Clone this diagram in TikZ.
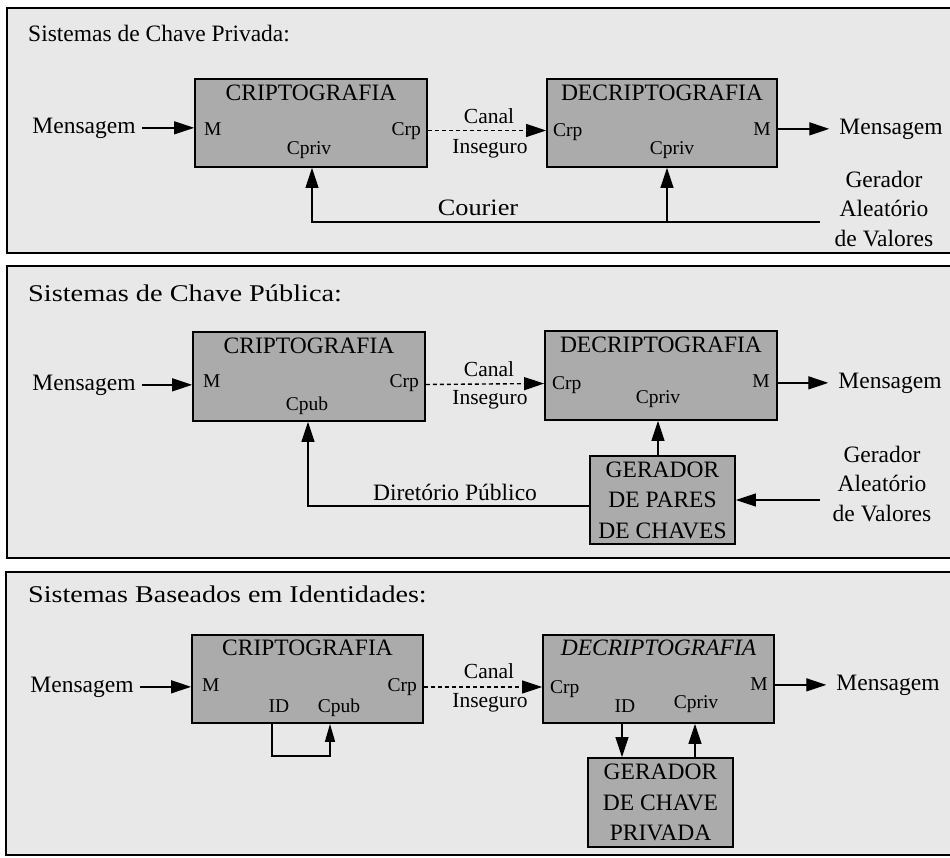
\documentclass[tikz,border=0pt]{standalone}
\usepackage{fontspec}
\setmainfont{Liberation Serif}
\usetikzlibrary{arrows.meta}

\begin{document}
\begin{tikzpicture}[x=1pt,y=-1pt,
  panel/.style={draw=black, line width=1.8pt, fill=black!9},
  box/.style={draw=black, line width=1.8pt, fill=black!33, inner sep=0pt},
  big/.style={font=\fontsize{23.5}{29.5}\selectfont, inner sep=0pt},
  boxtxt/.style={font=\fontsize{23.5}{30.5}\selectfont, align=center},
  port/.style={font=\fontsize{19.5}{22}\selectfont, inner sep=0pt, anchor=base},
  chan/.style={font=\fontsize{21.5}{24}\selectfont, inner sep=0pt, anchor=base},
  wire/.style={line width=1.4pt},
  arr/.style={wire, -{Triangle[length=20pt,width=13pt]}},
  smallarr/.style={wire, -{Triangle[length=18pt,width=10pt]}},
  chanarr/.style={arr, dash pattern=on 4pt off 3pt},
]
\useasboundingbox (0,0) rectangle (950,857);
\clip (0,0) rectangle (950,857);

% three framed panels
\path[panel] (7,8) rectangle (958,253);
\path[panel] (7,266) rectangle (958,558);
\path[panel] (6,572) rectangle (958,855);

% ---------------- private key systems ----------------
\node[big, anchor=base west] (t1) at (28,41) {Sistemas de Chave Privada:};

\node[box, minimum width=232pt, minimum height=88pt] (c1) at (311,123) {};
\node[big, anchor=base] (c1t) at (311,100) {CRIPTOGRAFIA};
\node[port, anchor=base west] (c1m) at (204,135) {M};
\node[port, anchor=base east] (c1c) at (421,135) {Crp};
\node[port] (c1k) at (309,154) {Cpriv};

\node[box, minimum width=230pt, minimum height=88pt] (d1) at (662,123) {};
\node[big, anchor=base] (d1t) at (662,100) {DECRIPTOGRAFIA};
\node[port, anchor=base west] (d1c) at (553,136) {Crp};
\node[port, anchor=base east] (d1m) at (771,135) {M};
\node[port] (d1k) at (672,154) {Cpriv};

\node[big, anchor=base] (m1in) at (84,133) {Mensagem};
\node[big, anchor=base] (m1out) at (891,134) {Mensagem};
\node[chan] (ch1a) at (489,123) {Canal};
\node[chan] (ch1b) at (490,153) {Inseguro};
\node[big, align=center] (r1) at (884,209) {Gerador\\Aleatório\\de Valores};
\node[big, anchor=base] (cou) at (478,215) {\scalebox{1.12}[1]{Courier}};

\draw[arr] ([xshift=6pt]m1in.east) -- (m1in.east -| c1.west);
\draw[chanarr] ([yshift=-7.5pt]c1.east) -- ([yshift=-7.5pt]d1.west);
\draw[arr] (m1out.west -| d1.east) -- ([xshift=-10pt]m1out.west);
\coordinate (g1) at (820,222);
\coordinate (k1) at (312,222);
\coordinate (k2) at (667,222);
\draw[arr] (g1) -- (k1) -- (k1 |- c1.south);
\draw[arr] (k2) -- (k2 |- d1.south);

% ---------------- public key systems ----------------
\node[big, anchor=base west] (t2) at (28,301) {\fontsize{24}{29}\selectfont\scalebox{1.18}[1]{Sistemas de Chave Pública:}};

\node[box, minimum width=232pt, minimum height=89pt] (c2) at (309,376.5) {};
\node[big, anchor=base] (c2t) at (309,353) {CRIPTOGRAFIA};
\node[port, anchor=base west] (c2m) at (203,387) {M};
\node[port, anchor=base east] (c2c) at (419,387) {Crp};
\node[port] (c2k) at (307,410) {Cpub};

\node[box, minimum width=232pt, minimum height=89pt] (d2) at (661,375.5) {};
\node[big, anchor=base] (d2t) at (661,352) {DECRIPTOGRAFIA};
\node[port, anchor=base west] (d2c) at (552,389) {Crp};
\node[port, anchor=base east] (d2m) at (770,387) {M};
\node[port] (d2k) at (658,403) {Cpriv};

\node[box, boxtxt, minimum width=145pt, minimum height=88pt] (g2) at (662.5,500) {GERADOR\\DE PARES\\DE CHAVES};

\node[big, anchor=base] (m2in) at (84,390) {Mensagem};
\node[big, anchor=base] (m2out) at (890,388) {Mensagem};
\node[chan] (ch2a) at (489,376) {Canal};
\node[chan] (ch2b) at (490,404) {Inseguro};
\node[big, align=center] (r2) at (882,484) {Gerador\\Aleatório\\de Valores};
\node[big, anchor=base] (dir) at (455,500) {Diretório Público};

\draw[arr] ([xshift=6pt]m2in.east) -- (m2in.east -| c2.west);
\draw[chanarr] ([yshift=-8pt]c2.east) -- ([yshift=-8pt]d2.west);
\draw[arr] (m2out.west -| d2.east) -- ([xshift=-10pt]m2out.west);
\draw[arr] ([xshift=-4.5pt]g2.north) -- ([xshift=-3pt]d2.south);
\coordinate (g2in) at (820,500);
\draw[arr] (g2in) -- (g2in -| g2.east);
\coordinate (k3) at (308,506);
\draw[arr] (k3 -| g2.west) -- (k3) -- (k3 |- c2.south);

% ---------------- identity based systems ----------------
\node[big, anchor=base west] (t3) at (28,602) {\fontsize{24}{29}\selectfont\scalebox{1.17}[1]{Sistemas Baseados em Identidades:}};

\node[box, minimum width=231pt, minimum height=88pt] (c3) at (307.5,679) {};
\node[big, anchor=base] (c3t) at (307.5,655) {CRIPTOGRAFIA};
\node[port, anchor=base west] (c3m) at (202,691) {M};
\node[port, anchor=base east] (c3c) at (417,691) {Crp};
\node[port] (c3i) at (279,712) {ID};
\node[port] (c3k) at (339,712) {Cpub};

\node[box, minimum width=231pt, minimum height=88pt] (d3) at (658.5,679) {};
\node[big, anchor=base] (d3t) at (658.5,655) {\itshape DECRIPTOGRAFIA};
\node[port, anchor=base west] (d3c) at (550,693) {Crp};
\node[port, anchor=base east] (d3m) at (768,690) {M};
\node[port] (d3i) at (625,712) {ID};
\node[port] (d3k) at (696,708) {Cpriv};

\node[box, boxtxt, minimum width=145pt, minimum height=89pt] (g3) at (660.5,802.5) {GERADOR\\DE CHAVE\\PRIVADA};

\node[big, anchor=base] (m3in) at (82,692) {Mensagem};
\node[big, anchor=base] (m3out) at (888,690) {Mensagem};
\node[chan] (ch3a) at (489,678) {Canal};
\node[chan] (ch3b) at (490,707) {Inseguro};

\draw[arr] ([xshift=6pt]m3in.east) -- (m3in.east -| c3.west);
\draw[chanarr] ([yshift=-8pt]c3.east) -- ([yshift=-8pt]d3.west);
\draw[arr] (m3out.west -| d3.east) -- ([xshift=-10pt]m3out.west);
\coordinate (k4) at (272,756);
\coordinate (k5) at (330,756);
\draw[smallarr] (k4 |- c3.south) -- (k4) -- (k5) -- (k5 |- c3.south);
\draw[arr] ([xshift=-36.5pt]d3.south) -- ([xshift=-38.5pt]g3.north);
\draw[arr] ([xshift=34.5pt]g3.north) -- ([xshift=36.5pt]d3.south);
\end{tikzpicture}
\end{document}
